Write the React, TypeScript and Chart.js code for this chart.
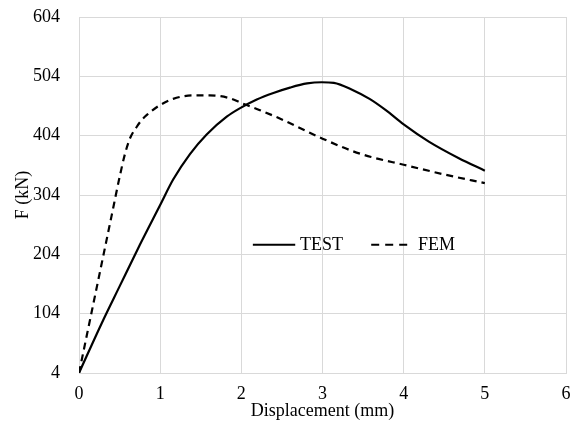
import React, { useEffect, useRef } from "react";
import { Chart, registerables } from "chart.js";

Chart.register(...registerables);

const testX = [0, 0.28, 0.5, 0.75, 1.0, 1.16, 1.367, 1.573, 1.82, 1.98, 2.19, 2.395, 2.6, 2.81, 2.99, 3.14, 3.37, 3.58, 3.78, 4.0, 4.31, 4.68, 5.0];
const testY = [4, 88, 150, 220, 287, 330, 373, 406, 436, 450, 465, 476, 485, 492, 494, 493, 481, 466, 447, 423, 394, 366, 345];

const femX = [0, 0.1, 0.2, 0.3, 0.4, 0.5, 0.568, 0.63, 0.712, 0.77, 0.836, 0.98, 1.16, 1.41, 1.61, 1.86, 2.02, 2.23, 2.52, 2.81, 3.0, 3.37, 3.6, 4.0, 4.52, 5.0];
const femY = [4, 70, 136, 202, 268, 334, 374, 400, 419, 430, 439, 454, 466, 472, 472, 467, 458, 447, 430, 411, 399, 378, 368, 355, 338, 324];

const xTicks = [0, 1, 2, 3, 4, 5, 6];
const yTicks = [4, 104, 204, 304, 404, 504, 604];

const seriesNames = ["TEST", "FEM"];
const xTitle = "Displacement (mm)";
const yTitle = "F (kN)";

const FONT = "'Liberation Serif', 'Times New Roman', serif";
const GRID = "#d9d9d9";

const legendPlugin = {
  id: "inPlotLegend",
  afterDraw(chart: any) {
    const { ctx, chartArea } = chart;
    const w = chartArea.right - chartArea.left;
    const h = chartArea.bottom - chartArea.top;
    const y = chartArea.top + h * 0.64;
    const fx = (f: number) => chartArea.left + w * f;
    ctx.save();
    ctx.strokeStyle = "#000";
    ctx.lineWidth = 2;
    ctx.beginPath();
    ctx.moveTo(fx(0.357), y);
    ctx.lineTo(fx(0.444), y);
    ctx.stroke();
    ctx.setLineDash([8, 6]);
    ctx.beginPath();
    ctx.moveTo(fx(0.6), y);
    ctx.lineTo(fx(0.678), y);
    ctx.stroke();
    ctx.setLineDash([]);
    ctx.fillStyle = "#000";
    ctx.font = `18px ${FONT}`;
    ctx.textBaseline = "middle";
    ctx.textAlign = "left";
    ctx.fillText(seriesNames[0], fx(0.454), y);
    ctx.fillText(seriesNames[1], fx(0.696), y);
    ctx.restore();
  },
};

const zeroPad = (s: any) => {
  s.paddingTop = 0;
  s.paddingBottom = 0;
  s.paddingLeft = 0;
  s.paddingRight = 0;
};

export default function App() {
  const ref = useRef<HTMLCanvasElement | null>(null);
  useEffect(() => {
    if (!ref.current) return;
    const chart = new Chart(ref.current, {
      type: "line",
      data: {
        datasets: [
          {
            label: seriesNames[0],
            data: testX.map((x, i) => ({ x, y: testY[i] })),
            borderColor: "#000",
            borderWidth: 2.2,
            pointRadius: 0,
            cubicInterpolationMode: "monotone",
            fill: false,
          },
          {
            label: seriesNames[1],
            data: femX.map((x, i) => ({ x, y: femY[i] })),
            borderColor: "#000",
            borderWidth: 2.2,
            borderDash: [7, 5],
            pointRadius: 0,
            cubicInterpolationMode: "monotone",
            fill: false,
          },
        ],
      },
      options: {
        responsive: false,
        animation: false,
        layout: { padding: { left: 12, right: 9, top: 17, bottom: 9 } },
        plugins: { legend: { display: false }, tooltip: { enabled: false } },
        scales: {
          x: {
            type: "linear",
            min: 0,
            max: 6,
            afterBuildTicks: (s: any) => {
              s.ticks = xTicks.map((v) => ({ value: v }));
            },
            afterFit: (s: any) => {
              s.height = 49;
              zeroPad(s);
            },
            grid: { color: GRID, lineWidth: 1, drawTicks: false },
            border: { display: true, color: GRID },
            ticks: { color: "#000", padding: 10, font: { family: FONT, size: 18 } },
            title: { display: true, text: xTitle, color: "#000", padding: 0, font: { family: FONT, size: 18 } },
          },
          y: {
            type: "linear",
            min: 4,
            max: 604,
            afterBuildTicks: (s: any) => {
              s.ticks = yTicks.map((v) => ({ value: v }));
            },
            afterFit: (s: any) => {
              s.width = 67;
              zeroPad(s);
            },
            grid: { color: GRID, lineWidth: 1, drawTicks: false },
            border: { display: true, color: GRID },
            ticks: { color: "#000", padding: 19, font: { family: FONT, size: 18 } },
            title: { display: true, text: yTitle, color: "#000", padding: 0, font: { family: FONT, size: 18 } },
          },
        },
      },
      plugins: [legendPlugin],
    } as any);
    return () => chart.destroy();
  }, []);
  return (
    <div style={{ position: "absolute", left: 0, top: 0, width: 575, height: 431, background: "#fff" }}>
      <canvas ref={ref} width={575} height={431} style={{ width: 575, height: 431 }} />
    </div>
  );
}
